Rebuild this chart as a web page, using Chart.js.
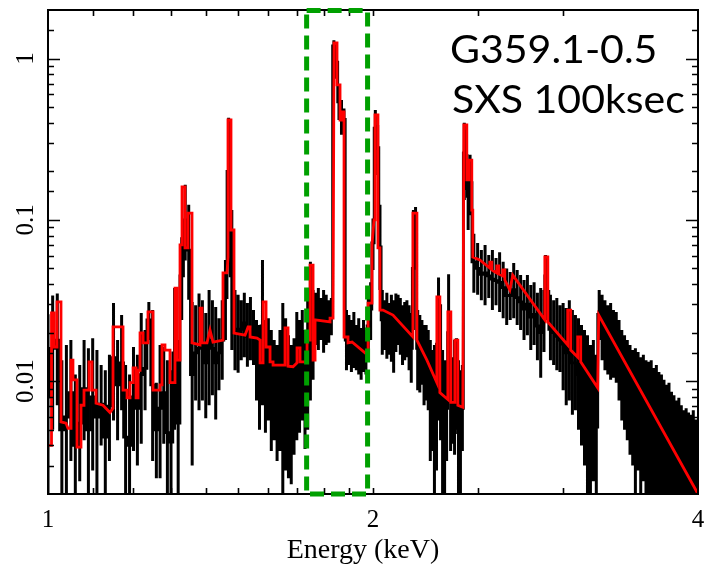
<!DOCTYPE html>
<html>
<head>
<meta charset="utf-8">
<script src="https://cdn.jsdelivr.net/npm/chart.js@4.4.1/dist/chart.umd.min.js"></script>
<style>
  html, body { margin: 0; padding: 0; background: #ffffff; }
  canvas { display: block; }
</style>
</head>
<body>
<canvas id="spectrum" width="706" height="566" style="width:706px;height:566px"></canvas>
<script>
// Measured spectrum: bin energies (keV), binned rate and the two ends of each error bar (counts/s/keV)
const binEnergy = [
  1.00,1.01,1.02,1.03,1.04,1.05,1.06,1.07,1.08,1.09,
  1.10,1.11,1.12,1.13,1.14,1.15,1.16,1.17,1.18,1.19,
  1.20,1.21,1.22,1.23,1.24,1.25,1.26,1.27,1.28,1.29,
  1.30,1.31,1.32,1.33,1.34,1.35,1.36,1.37,1.38,1.39,
  1.40,1.41,1.42,1.43,1.44,1.45,1.46,1.47,1.48,1.49,
  1.50,1.51,1.52,1.53,1.54,1.55,1.56,1.57,1.58,1.59,
  1.60,1.61,1.62,1.63,1.64,1.65,1.66,1.67,1.68,1.69,
  1.70,1.71,1.72,1.73,1.74,1.75,1.76,1.77,1.78,1.79,
  1.80,1.81,1.82,1.83,1.84,1.85,1.86,1.87,1.88,1.89,
  1.90,1.91,1.92,1.93,1.94,1.95,1.96,1.97,1.98,1.99,
  2.00,2.01,2.02,2.03,2.04,2.05,2.06,2.07,2.08,2.09,
  2.10,2.11,2.12,2.13,2.14,2.15,2.16,2.17,2.18,2.19,
  2.20,2.21,2.22,2.23,2.24,2.25,2.26,2.27,2.28,2.29,
  2.30,2.31,2.32,2.33,2.34,2.35,2.36,2.37,2.38,2.39,
  2.40,2.41,2.42,2.43,2.44,
  2.45,2.46,2.48,2.50,2.52,2.54,2.56,2.58,2.60,2.62,
  2.64,2.66,2.68,2.70,2.72,2.74,2.76,2.78,2.80,2.82,
  2.84,2.86,2.88,2.89,2.90,2.92,2.94,2.96,2.98,3.00,
  3.02,3.04,3.06,3.08,3.10,3.12,3.14,3.16,3.18,3.20,
  3.22,3.24,3.26,3.28,3.30,3.32,3.34,3.36,3.38,3.40,
  3.42,3.44,3.46,3.48,3.50,3.52,3.54,3.56,3.58,3.60,
  3.62,3.64,3.66,3.68,3.70,3.72,3.74,3.76,3.78,3.80,
  3.82,3.84,3.86,3.88,3.90,3.92,3.94,3.96,3.98,4.00
];
const binValue = [
  0.008,0.016,0.018,0.005,0.006,0.0085,0.004,0.0055,0.009,0.005,
  0.008,0.006,0.0072,0.0045,0.007,0.014,0.0095,0.013,0.0045,0.004,
  0.008,0.0068,0.011,0.012,0.024,0.0095,0.005,0.0068,0.0085,0.0048,
  0.0042,0.015,0.0055,0.045,0.10,0.065,0.011,0.015,0.016,0.017,
  0.013,0.018,0.016,0.013,0.015,0.018,0.033,0.20,0.045,0.021,
  0.020,0.021,0.023,0.019,0.021,0.019,0.014,0.011,0.022,0.011,
  0.012,0.009,0.0088,0.0075,0.0092,0.008,0.010,0.0072,0.0065,0.0082,
  0.011,0.0105,0.0125,0.009,0.013,0.022,0.019,0.024,0.025,0.024,
  0.024,0.024,0.0235,0.025,1.2,0.95,0.54,0.44,0.42,0.018,
  0.018,0.0165,0.018,0.016,0.0165,0.015,0.0165,0.015,0.022,0.028,
  0.072,0.37,0.28,0.068,0.024,0.023,0.022,0.021,0.021,0.019,
  0.023,0.024,0.022,0.019,0.020,0.021,0.019,0.016,0.05,0.085,
  0.016,0.015,0.015,0.0128,0.013,0.0118,0.0078,0.0078,0.0055,0.007,
  0.017,0.012,0.0052,0.0048,0.0068,0.020,0.0088,0.0078,0.0085,0.0098,
  0.0048,0.0045,0.0068,0.26,0.25,
  0.14,0.17,0.055,0.050,0.046,0.047,0.045,0.043,0.042,0.041,
  0.038,0.034,0.034,0.037,0.033,0.031,0.028,0.030,0.025,0.026,
  0.022,0.020,0.024,0.045,0.036,0.021,0.020,0.019,0.018,0.017,
  0.015,0.016,0.013,0.013,0.011,0.0095,0.008,0.0062,0.0055,0.0065,
  0.0052,0.026,0.022,0.019,0.018,0.0175,0.017,0.016,0.0135,0.011,
  0.0098,0.0088,0.0077,0.0068,0.0062,0.0065,0.0055,0.006,0.005,0.0048,
  0.0062,0.0055,0.0058,0.005,0.0046,0.0042,0.0038,0.004,0.0034,0.0032,
  0.003,0.0031,0.0027,0.0025,0.0026,0.0023,0.0022,0.0024,0.0021,0.002
];
const binHigh = [
  0.026,0.034,0.035,0.0135,0.0168,0.018,0.011,0.0126,0.018,0.016,
  0.0185,0.0156,0.0126,0.0117,0.0146,0.0305,0.018,0.0257,0.0126,0.011,
  0.0163,0.0146,0.0265,0.0208,0.031,0.0276,0.0098,0.0168,0.0163,0.0135,
  0.0117,0.0378,0.018,0.078,0.165,0.124,0.031,0.0296,0.035,0.0318,
  0.0265,0.0368,0.0318,0.0288,0.0246,0.0318,0.0564,0.43,0.115,0.0368,
  0.0343,0.0318,0.0353,0.0305,0.0333,0.0276,0.024,0.0223,0.0564,0.024,
  0.0246,0.0208,0.018,0.0168,0.0208,0.0305,0.0246,0.0193,0.0168,0.0185,
  0.0269,0.024,0.0276,0.0208,0.0318,0.055,0.0368,0.0353,0.0378,0.0328,
  0.0368,0.0343,0.0318,0.0328,1.30,1.20,0.686,0.553,0.49,0.0276,
  0.0257,0.024,0.0269,0.0223,0.0246,0.0214,0.024,0.0208,0.0368,0.041,
  0.102,0.48,0.388,0.124,0.0368,0.0318,0.0353,0.0305,0.0343,0.0318,
  0.035,0.0343,0.0328,0.0296,0.031,0.0318,0.0296,0.0265,0.115,0.12,
  0.0276,0.0257,0.024,0.0223,0.0223,0.0208,0.018,0.0156,0.0168,0.0173,
  0.044,0.030,0.0156,0.0135,0.0135,0.046,0.0208,0.0141,0.018,0.0185,
  0.0135,0.0117,0.0126,0.40,0.362,
  0.219,0.253,0.082,0.072,0.065,0.070,0.0607,0.065,0.058,0.063,
  0.055,0.050,0.0475,0.054,0.0489,0.0455,0.0424,0.0455,0.0395,0.041,
  0.0353,0.0378,0.0368,0.0607,0.0525,0.0343,0.0318,0.0328,0.0296,0.0305,
  0.0284,0.0318,0.0276,0.0257,0.0246,0.0223,0.0208,0.0193,0.0168,0.018,
  0.0146,0.0368,0.0343,0.0318,0.0296,0.0305,0.0276,0.0269,0.024,0.0208,
  0.0193,0.018,0.0168,0.0156,0.016,0.0152,0.0141,0.0146,0.0135,0.0132,
  0.0135,0.0121,0.0126,0.0114,0.011,0.0102,0.0095,0.0098,0.0086,0.0082,
  0.0076,0.0079,0.0071,0.0066,0.0068,0.0064,0.0062,0.0066,0.0058,0.0057
];
const binLow = [
  0.0015,0.005,0.0071,0.0015,0.0015,0.0032,0.0015,0.0024,0.0043,0.0015,
  0.0028,0.0015,0.004,0.0015,0.0032,0.0057,0.0043,0.0066,0.0015,0.0015,
  0.0037,0.003,0.0041,0.0066,0.018,0.0032,0.0025,0.0025,0.0041,0.0015,
  0.0015,0.005,0.0015,0.024,0.056,0.032,0.003,0.0076,0.0066,0.0076,
  0.0059,0.0071,0.0082,0.0058,0.0088,0.0102,0.018,0.075,0.0156,0.0117,
  0.0113,0.0135,0.0141,0.0123,0.0135,0.0126,0.0076,0.005,0.0071,0.0048,
  0.0057,0.0037,0.0043,0.0032,0.0037,0.0015,0.0028,0.0025,0.0023,0.0035,
  0.0043,0.0048,0.0057,0.0038,0.005,0.0076,0.0102,0.0168,0.0156,0.018,
  0.015,0.0168,0.0173,0.0193,1.10,0.75,0.416,0.337,0.362,0.0117,
  0.0126,0.0114,0.0121,0.0117,0.011,0.0102,0.0114,0.011,0.0135,0.018,
  0.0489,0.271,0.19,0.0368,0.0146,0.0156,0.0138,0.0146,0.0132,0.0113,
  0.0152,0.0168,0.0146,0.0126,0.0135,0.0141,0.0117,0.0098,0.0208,0.06,
  0.0088,0.0085,0.0095,0.0071,0.0076,0.0066,0.0032,0.0037,0.0015,0.0028,
  0.0057,0.0043,0.0015,0.0015,0.0032,0.0076,0.0037,0.0041,0.0035,0.005,
  0.0015,0.0015,0.0037,0.133,0.153,
  0.0866,0.107,0.0353,0.0343,0.0318,0.0296,0.0328,0.0276,0.0296,0.0269,
  0.0246,0.0223,0.024,0.0246,0.0223,0.0208,0.018,0.0193,0.0156,0.0168,
  0.0135,0.0105,0.0152,0.0318,0.024,0.0135,0.0126,0.0117,0.0114,0.0088,
  0.0071,0.0076,0.0062,0.0066,0.005,0.004,0.003,0.0015,0.0015,0.0024,
  0.0015,0.018,0.0135,0.0117,0.011,0.0102,0.0105,0.0098,0.0076,0.0057,
  0.005,0.0043,0.0035,0.003,0.0015,0.0028,0.0015,0.0024,0.0015,0.0015,
  0.0015,0.0015,0.0015,0.0015,0.0015,0.0015,0.0015,0.0015,0.0015,0.0015,
  0.0015,0.0015,0.0015,0.0015,0.0015,0.0015,0.0015,0.0015,0.0015,0.0015
];

// Best-fit plasma model: vertices [energy keV, counts/s/keV] of the stepped curve
const modelCurve = [
  [1.001,0.0040],[1.0075,0.0040],[1.0075,0.0265],[1.0129,0.0265],[1.0129,0.0163],[1.0194,0.0163],
  [1.0194,0.031],[1.0281,0.031],[1.0281,0.0056],[1.0391,0.0055],[1.0436,0.0051],[1.0503,0.0051],
  [1.0503,0.0135],[1.0547,0.0135],[1.0547,0.0102],[1.0638,0.0102],[1.0638,0.0039],[1.0729,0.0039],
  [1.0729,0.0071],[1.0798,0.0071],[1.0798,0.0088],[1.0914,0.0088],[1.0914,0.0132],[1.0984,0.0132],
  [1.0984,0.0088],[1.1079,0.0088],[1.1079,0.0073],[1.1244,0.0071],[1.1413,0.0064],[1.1487,0.0068],
  [1.1487,0.0217],[1.1735,0.0217],[1.1735,0.0088],[1.1836,0.0088],[1.1836,0.0079],[1.1912,0.0079],
  [1.1912,0.0098],[1.1989,0.0098],[1.1989,0.0121],[1.2066,0.0121],[1.2066,0.0079],[1.2118,0.0079],
  [1.2118,0.0117],[1.2169,0.0117],[1.2169,0.0199],[1.2248,0.0199],[1.2248,0.0173],[1.2377,0.0173],
  [1.2377,0.0269],[1.2510,0.0269],[1.2510,0.0088],[1.2698,0.0088],[1.2698,0.0095],[1.2752,0.0095],
  [1.2752,0.0168],[1.2834,0.0168],[1.2834,0.0156],[1.2972,0.0156],[1.2972,0.0098],[1.3111,0.0098],
  [1.3111,0.0378],[1.3168,0.0378],[1.3168,0.0135],[1.3252,0.0135],[1.3252,0.070],[1.3309,0.070],
  [1.3309,0.160],[1.3394,0.160],[1.3394,0.067],[1.3480,0.067],[1.3480,0.110],[1.3595,0.110],
  [1.3595,0.0173],[1.3829,0.0168],[1.3829,0.0284],[1.3888,0.0284],[1.3888,0.0173],[1.4037,0.0173],
  [1.4127,0.0208],[1.4218,0.0175],[1.4524,0.0180],[1.4524,0.0469],[1.4649,0.0469],[1.4680,0.0589],
  [1.4680,0.416],[1.4774,0.416],[1.4774,0.0866],[1.4869,0.0866],[1.4869,0.0199],[1.5223,0.0193],
  [1.5322,0.0217],[1.5387,0.0217],[1.5387,0.0188],[1.5618,0.0185],[1.5719,0.0180],[1.5719,0.0130],
  [1.5820,0.0130],[1.5820,0.031],[1.5921,0.031],[1.5921,0.0163],[1.6057,0.0163],[1.6057,0.0132],
  [1.6161,0.0132],[1.6161,0.0126],[1.6578,0.0126],[1.6578,0.0214],[1.6685,0.0214],[1.6685,0.0124],
  [1.6864,0.0123],[1.7008,0.0130],[1.7008,0.0161],[1.7118,0.0161],[1.7118,0.0132],[1.7376,0.0132],
  [1.7376,0.0180],[1.7488,0.0180],[1.7488,0.0525],[1.7600,0.0525],[1.7600,0.0135],[1.7675,0.0135],
  [1.7675,0.0240],[1.8249,0.0233],[1.8249,0.0246],[1.8366,0.0246],[1.8405,1.25],[1.8523,1.25],
  [1.8523,0.686],[1.8642,0.686],[1.8642,0.416],[1.8722,0.416],[1.8722,0.467],[1.8802,0.467],
  [1.8802,0.0188],[1.8963,0.0188],[1.8963,0.0173],[1.9126,0.0175],[1.9666,0.0150],[1.9792,0.0152],
  [1.9792,0.0305],[1.9957,0.0305],[1.9957,0.070],[2.0043,0.100],[2.0085,0.447],[2.0213,0.447],
  [2.0213,0.067],[2.0299,0.067],[2.0299,0.0276],[2.0430,0.0276],[2.0871,0.0257],[2.1778,0.0188],
  [2.1778,0.110],[2.1964,0.110],[2.1964,0.0180],[2.2437,0.0135],[2.2918,0.0098],[2.2918,0.0333],
  [2.3065,0.0333],[2.3065,0.0085],[2.3462,0.0077],[2.3462,0.0269],[2.3612,0.0269],[2.3612,0.0074],
  [2.3814,0.0074],[2.3814,0.0180],[2.3967,0.0180],[2.3967,0.0071],[2.4223,0.0069],[2.4275,0.388],
  [2.4430,0.388],[2.4430,0.177],[2.4535,0.177],[2.4535,0.235],[2.4691,0.235],[2.4691,0.115],
  [2.4744,0.115],[2.4744,0.0589],[2.5116,0.0564],[2.5657,0.0503],[2.5657,0.0548],[2.5767,0.0548],
  [2.5767,0.0489],[2.6043,0.0469],[2.6043,0.0518],[2.6155,0.0518],[2.6155,0.0462],[2.6379,0.0449],
  [2.6379,0.0489],[2.6492,0.0489],[2.6492,0.0424],[2.6776,0.0368],[2.6948,0.0455],[2.8853,0.0240],
  [2.8853,0.0589],[2.9038,0.0589],[2.9038,0.0233],[3.0296,0.0168],[3.0296,0.0276],[3.0490,0.0276],
  [3.0490,0.0156],[3.0948,0.0141],[3.0948,0.0188],[3.1147,0.0188],[3.1147,0.0132],[3.2297,0.0091],
  [3.2366,0.0257],[4.0,0.0020]
];

// Axis labelling
const xTickLabels = [1, 2, 4];
const yTickLabels = [0.01, 0.1, 1];
const xTitle = 'Energy (keV)';
// Energy band outlined by the dashed box (keV)
const boxEnergy = [1.736, 1.977];
// Annotation lines
const noteLines = ['G359.1-0.5', 'SXS 100ksec'];

// One vertical segment per bin, separated by gaps
const errorBarPoints = [];
binEnergy.forEach((e, i) => {
  errorBarPoints.push({ x: e, y: binHigh[i] }, { x: e, y: binLow[i] }, { x: e, y: null });
});
const valuePoints = binEnergy.map((e, i) => ({ x: e, y: binValue[i] }));
const modelPoints = modelCurve.map(([x, y]) => ({ x, y }));

const isTick = (list, v) => list.some(t => Math.abs(t - v) / t < 1e-6);

const framePlugin = {
  id: 'framePlugin',
  afterDatasetsDraw(chart) {
    const { ctx, chartArea: a, scales: { x, y } } = chart;
    ctx.save();

    // plot frame
    ctx.strokeStyle = '#000';
    ctx.lineWidth = 2;
    ctx.setLineDash([]);
    ctx.strokeRect(a.left, a.top, a.right - a.left, a.bottom - a.top);

    // inward ticks on all four sides
    ctx.lineWidth = 1.6;
    ctx.beginPath();
    y.ticks.forEach(t => {
      if (t.value <= y.min * 1.0001 || t.value >= y.max * 0.9999) return;
      const py = Math.round(y.getPixelForValue(t.value)) + 0.5;
      const major = Math.abs(Math.log10(t.value) - Math.round(Math.log10(t.value))) < 1e-6;
      const len = major ? 12 : 6;
      ctx.moveTo(a.left, py); ctx.lineTo(a.left + len, py);
      ctx.moveTo(a.right, py); ctx.lineTo(a.right - len, py);
    });
    x.ticks.forEach(t => {
      if (t.value <= x.min * 1.0001 || t.value >= x.max * 0.9999) return;
      const px = Math.round(x.getPixelForValue(t.value)) + 0.5;
      ctx.moveTo(px, a.bottom); ctx.lineTo(px, a.bottom - 6);
      ctx.moveTo(px, a.top); ctx.lineTo(px, a.top + 6);
    });
    ctx.stroke();

    // dashed box around the selected band
    const bx0 = x.getPixelForValue(boxEnergy[0]);
    const bx1 = x.getPixelForValue(boxEnergy[1]);
    ctx.strokeStyle = '#00a000';
    ctx.lineWidth = 5;
    ctx.setLineDash([14, 7]);
    ctx.strokeRect(bx0, a.top + 0.5, bx1 - bx0, a.bottom - a.top - 0.5);
    ctx.setLineDash([]);

    // rotated y tick labels
    ctx.fillStyle = '#000';
    ctx.font = '25px "Liberation Serif"';
    ctx.textAlign = 'center';
    ctx.textBaseline = 'alphabetic';
    y.ticks.forEach(t => {
      if (!isTick(yTickLabels, t.value)) return;
      const py = y.getPixelForValue(t.value);
      ctx.save();
      ctx.translate(32.5, py);
      ctx.rotate(-Math.PI / 2);
      ctx.fillText(String(yTickLabels.find(v => Math.abs(v - t.value) / v < 1e-6)), 0, 0);
      ctx.restore();
    });

    // x axis title
    ctx.font = '28px "Liberation Serif"';
    ctx.fillText(xTitle, 363, 558);

    // annotation
    ctx.font = '38px Lato';
    ctx.textAlign = 'left';
    [[450, 63], [452, 113]].forEach(([tx, ty], i) => {
      ctx.save();
      ctx.translate(tx, ty);
      ctx.scale(1.08, 1);
      ctx.fillText(noteLines[i], 0, 0);
      ctx.restore();
    });

    ctx.restore();
  }
};

new Chart(document.getElementById('spectrum'), {
  type: 'line',
  data: {
    datasets: [
      { label: 'model', data: modelPoints, borderColor: '#ff0000', borderWidth: 2.8,
        pointRadius: 0, tension: 0, clip: 0, fill: false },
      { label: 'rate', data: valuePoints, borderColor: '#000000', borderWidth: 2.8,
        pointRadius: 0, stepped: 'middle', clip: 0, fill: false },
      { label: 'error', data: errorBarPoints, borderColor: '#000000', borderWidth: 3,
        pointRadius: 0, tension: 0, clip: 0, fill: false, spanGaps: false }
    ]
  },
  options: {
    responsive: false,
    animation: false,
    devicePixelRatio: 1,
    parsing: false,
    layout: { padding: { top: 10, right: 8, left: 0, bottom: 0 } },
    plugins: { legend: { display: false }, tooltip: { enabled: false } },
    scales: {
      x: {
        type: 'logarithmic', min: 1, max: 4, position: 'bottom',
        grid: { display: false, drawTicks: false },
        border: { display: false },
        ticks: {
          autoSkip: false, minRotation: 0, maxRotation: 0, padding: 11, color: '#000',
          font: { family: 'Liberation Serif', size: 25 },
          callback: v => (isTick(xTickLabels, v) ? String(v) : '')
        },
        title: { display: false },
        afterFit: s => { s.height = 72; s.paddingLeft = 0; s.paddingRight = 0; }
      },
      y: {
        type: 'logarithmic', min: 0.002, max: 2,
        grid: { display: false, drawTicks: false },
        border: { display: false },
        ticks: { display: false },
        afterFit: s => { s.width = 48; }
      }
    }
  },
  plugins: [framePlugin]
});
</script>
</body>
</html>
